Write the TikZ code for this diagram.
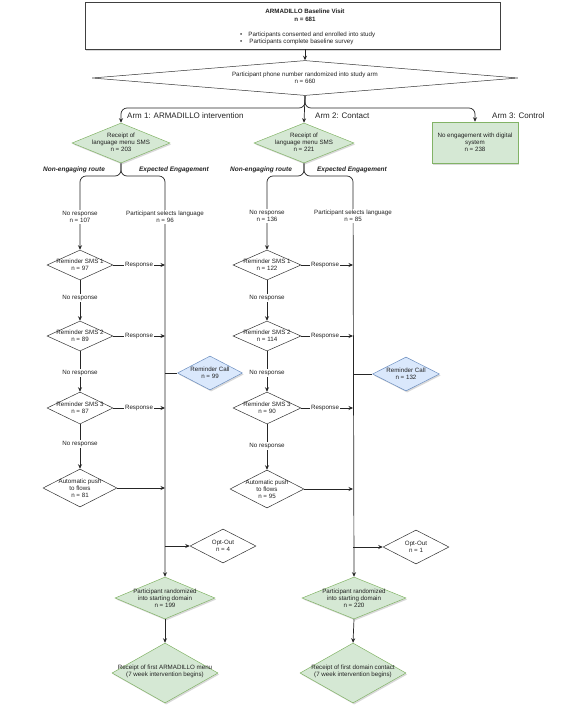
\documentclass[tikz,border=0pt]{standalone}
\usepackage{fontspec}
\setmainfont{Liberation Sans}
\usetikzlibrary{shapes.geometric,arrows.meta,shadows}
\definecolor{gfill}{HTML}{D5E8D4}
\definecolor{gline}{HTML}{82B366}
\definecolor{bfill}{HTML}{DAE8FC}
\definecolor{bline}{HTML}{6C8EBF}
\definecolor{txtc}{HTML}{222222}
\begin{document}
\begin{tikzpicture}[x=1pt,y=-1pt,
  sm/.style={font=\fontsize{6.2}{7.2}\selectfont, text=txtc, align=center, inner sep=0pt},
  armlbl/.style={font=\fontsize{8}{9}\selectfont, text=txtc, anchor=west, inner sep=0pt},
  route/.style={font=\fontsize{6.5}{7.5}\selectfont\bfseries\itshape, text=txtc, inner sep=0pt},
  lbl/.style={sm, fill=white, inner sep=0.8pt},
  dia/.style 2 args={diamond, draw=black!80, line width=0.5pt, fill=white, minimum width=#1, minimum height=#2, inner sep=0pt},
  gdia/.style 2 args={dia={#1}{#2}, draw=gline, fill=gfill, drop shadow={opacity=0.3, shadow xshift=1.2pt, shadow yshift=-1.5pt}},
  bdia/.style 2 args={dia={#1}{#2}, draw=bline, fill=bfill, drop shadow={opacity=0.3, shadow xshift=1.2pt, shadow yshift=-1.5pt}},
  conn/.style={draw=black!85, line width=0.7pt},
  arr/.style={conn, -{Stealth[length=4.5pt,width=4pt]}},
]
\useasboundingbox (0,0) rectangle (588,705);

% ---------- top ----------
\node[draw=black!75, line width=0.6pt, fill=white, minimum width=415, minimum height=47, inner sep=0pt,
      drop shadow={opacity=0.3, shadow xshift=1.2pt, shadow yshift=-1.5pt}] (top) at (292.5,25.5) {};
\node[sm, font=\fontsize{6.2}{8}\selectfont\bfseries] (topt) at (305,15) {ARMADILLO Baseline Visit\\n = 681};
\node[sm, anchor=west] (b1) at (240,35) {•\hspace{6pt}Participants consented and enrolled into study};
\node[sm, anchor=west] (b2) at (240,42) {•\hspace{7pt}Participants complete baseline survey};

\node[dia={426}{35}] (rd) at (305,78) {};
\node[sm] (rdt) at (305,78) {Participant phone number randomized into study arm\\n = 660};

% ---------- arm 1 ----------
\node[gdia={98}{40}] (d1) at (121,143) {};
\node[sm] (d1t) at (121,142) {Receipt of\\language menu SMS\\n = 203};
\node[dia={66}{30}] (s1a) at (80,265) {};
\node[sm] (s1at) at (80,265) {Reminder SMS 1\\n = 97};
\node[dia={66}{30}] (s1b) at (80,336) {};
\node[sm] (s1bt) at (80,336) {Reminder SMS 2\\n = 89};
\node[dia={66}{32}] (s1c) at (80,408) {};
\node[sm] (s1ct) at (80,408) {Reminder SMS 3\\n = 87};
\node[dia={74}{38}] (ap1) at (80,488) {};
\node[sm] (ap1t) at (80,488) {Automatic push\\to flows\\n = 81};
\node[bdia={65}{34}] (rc1) at (210,373) {};
\node[sm] (rc1t) at (210,373) {Reminder Call\\n = 99};
\node[dia={66}{34}] (oo1) at (223,546) {};
\node[sm] (oo1t) at (223,546) {Opt-Out\\n = 4};
\node[gdia={100}{42}] (pr1) at (165,598) {};
\node[sm] (pr1t) at (165,598) {Participant randomized\\into starting domain\\n = 199};
\node[gdia={106}{60}] (rf1) at (165,673) {};
\node[sm] (rf1t) at (165,671) {Receipt of first ARMADILLO menu\\(7 week intervention begins)};

% ---------- arm 2 ----------
\node[gdia={100}{40}] (d2) at (304,143) {};
\node[sm] (d2t) at (304,142) {Receipt of\\language menu SMS\\n = 221};
\node[dia={68}{30}] (s2a) at (267,265) {};
\node[sm] (s2at) at (267,265) {Reminder SMS 1\\n = 122};
\node[dia={68}{30}] (s2b) at (267,336) {};
\node[sm] (s2bt) at (267,336) {Reminder SMS 2\\n = 114};
\node[dia={68}{32}] (s2c) at (267,408) {};
\node[sm] (s2ct) at (267,408) {Reminder SMS 3\\n = 90};
\node[dia={74}{38}] (ap2) at (267,489) {};
\node[sm] (ap2t) at (267,489) {Automatic push\\to flows\\n = 95};
\node[bdia={67}{34}] (rc2) at (406,374) {};
\node[sm] (rc2t) at (406,374) {Reminder Call\\n = 132};
\node[dia={66}{34}] (oo2) at (416,547) {};
\node[sm] (oo2t) at (416,547) {Opt-Out\\n = 1};
\node[gdia={104}{42}] (pr2) at (354,598) {};
\node[sm] (pr2t) at (354,598) {Participant randomized\\into starting domain\\n = 220};
\node[gdia={106}{60}] (rf2) at (353,673) {};
\node[sm] (rf2t) at (353,671) {Receipt of first domain contact\\(7 week intervention begins)};

% ---------- arm 3 ----------
\node[draw=gline, fill=gfill, line width=0.5pt, minimum width=86, minimum height=41, inner sep=0pt,
      drop shadow={opacity=0.3, shadow xshift=1.2pt, shadow yshift=-1.5pt}] (a3) at (475,142.5) {};
\node[sm] (a3t) at (475,142.5) {No engagement with digital\\system\\n = 238};

% ---------- coordinates ----------
\coordinate (A1) at (121,108);
\coordinate (A3) at (475,108);
\coordinate (L1) at (80,176);
\coordinate (R1) at (165,176);
\coordinate (L2) at (267,176);
\coordinate (R2) at (353,176);
\foreach \y/\n in {265/a,336/b,408/c,488/d,373/e,546/f}{
  \coordinate (v1\n) at (165,\y);
}
\foreach \y/\n in {265/a,336/b,408/c,489/d,374/e,547/f}{
  \coordinate (v2\n) at (353,\y);
}

% ---------- connectors ----------
\draw[arr] (top.south -| rd.north) -- (rd.north);
\draw[arr, rounded corners=6pt] (rd.south) |- (A1) -- (d1.north);
\draw[arr] (rd.south) -- (d2.north);
\draw[arr, rounded corners=6pt] (rd.south) |- (A3) -- (a3.north);

\draw[arr, rounded corners=6pt] (d1.south) |- (L1) -- (s1a.north);
\draw[arr, rounded corners=6pt] (d1.south) |- (R1) -- (pr1.north);
\draw[arr] (s1a.south) -- (s1b.north);
\draw[arr] (s1b.south) -- (s1c.north);
\draw[arr] (s1c.south) -- (ap1.north);
\draw[arr] (s1a.east) -- (v1a);
\draw[arr] (s1b.east) -- (v1b);
\draw[arr] (s1c.east) -- (v1c);
\draw[arr] (ap1.east) -- (v1d);
\draw[conn] (v1e) -- (rc1.west);
\draw[arr] (v1f) -- (oo1.west);
\draw[arr] (pr1.south) -- (rf1.north);

\draw[arr, rounded corners=6pt] (d2.south) |- (L2) -- (s2a.north);
\draw[arr, rounded corners=6pt] (d2.south) |- (R2) -- (pr2.north);
\draw[arr] (s2a.south) -- (s2b.north);
\draw[arr] (s2b.south) -- (s2c.north);
\draw[arr] (s2c.south) -- (ap2.north);
\draw[arr] (s2a.east) -- (v2a);
\draw[arr] (s2b.east) -- (v2b);
\draw[arr] (s2c.east) -- (v2c);
\draw[arr] (ap2.east) -- (v2d);
\draw[conn] (v2e) -- (rc2.west);
\draw[arr] (v2f) -- (oo2.west);
\draw[arr] (pr2.south) -- (rf2.north);

% ---------- labels ----------
\node[armlbl] (al1) at (127,116) {Arm 1: ARMADILLO intervention};
\node[armlbl] (al2) at (315,116) {Arm 2: Contact};
\node[armlbl] (al3) at (492,116) {Arm 3: Control};

\node[route] (ne1) at (74,170) {Non-engaging route};
\node[route] (ee1) at (174,170) {Expected Engagement};
\node[route] (ne2) at (261,170) {Non-engaging route};
\node[route] (ee2) at (352,170) {Expected Engagement};

\node[lbl] (nr1) at (80,217) {No response\\n = 107};
\node[lbl] (ps1) at (165,217) {Participant selects language\\n = 96};
\node[lbl] (nr1b) at (80,298) {No response};
\node[lbl] (nr1c) at (80,373) {No response};
\node[lbl] (nr1d) at (80,444) {No response};
\node[lbl] (rs1a) at (139,265) {Response};
\node[lbl] (rs1b) at (139,336) {Response};
\node[lbl] (rs1c) at (139,408) {Response};

\node[lbl] (nr2) at (267,216) {No response\\n = 136};
\node[lbl] (ps2) at (353,216) {Participant selects language\\n = 85};
\node[lbl] (nr2b) at (267,298) {No response};
\node[lbl] (nr2c) at (267,373) {No response};
\node[lbl] (nr2d) at (267,446) {No response};
\node[lbl] (rs2a) at (325,265) {Response};
\node[lbl] (rs2b) at (325,336) {Response};
\node[lbl] (rs2c) at (325,408) {Response};
\end{tikzpicture}
\end{document}
